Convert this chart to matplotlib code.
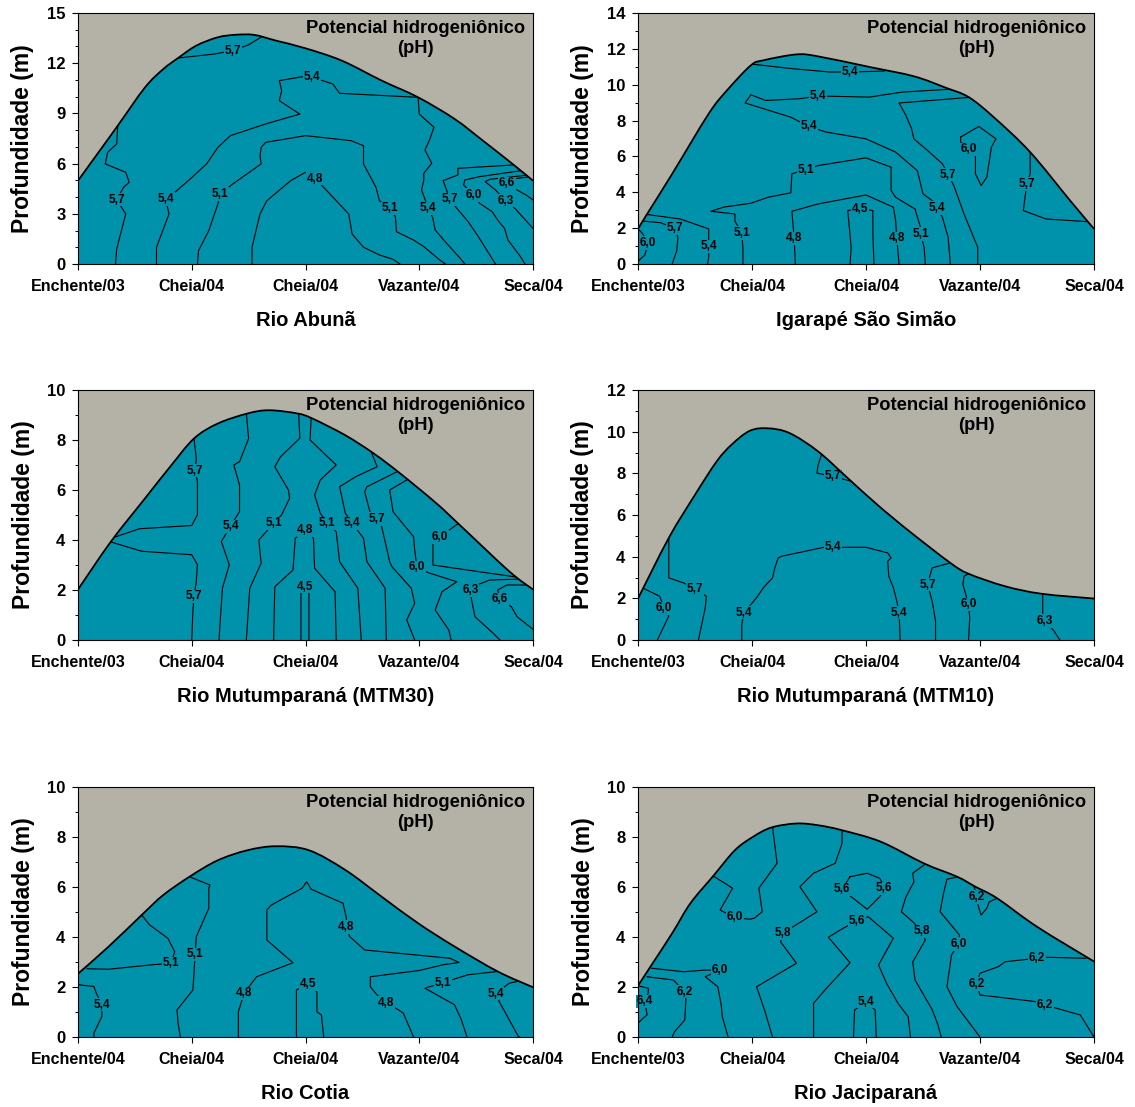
import matplotlib
matplotlib.use("Agg")
import matplotlib.pyplot as plt
import numpy as np
from matplotlib.patches import PathPatch
from matplotlib.path import Path
from matplotlib.ticker import MultipleLocator

plt.rcParams["font.family"] = ["Liberation Sans", "DejaVu Sans"]

GRAY = "#b4b2a6"
TEAL = "#0092ab"

CAMPANHAS = ["Enchente/03", "Cheia/04", "Cheia/04", "Vazante/04", "Seca/04"]
CAMPANHAS_COTIA = ["Enchente/04", "Cheia/04", "Cheia/04", "Vazante/04", "Seca/04"]

# ---- Rio Abuna ----
ABUNA_X = [0, 0.18, 0.35, 0.59, 0.75, 0.88, 1.04, 1.23, 1.39, 1.55, 1.74, 2.0, 2.32, 2.67, 2.99, 3.31, 3.56, 3.82, 4.0]
ABUNA_D = [4.98, 6.67, 8.27, 10.56, 11.65, 12.31, 13.05, 13.55, 13.7, 13.69, 13.35, 12.89, 12.15, 10.96, 9.96, 8.67, 7.37, 5.98, 4.98]
ABUNA_ISO = [
    (5.7, [(0.35, 8.3), (0.34, 7.17), (0.26, 6.67), (0.24, 5.98), (0.42, 5.48), (0.45, 4.88), (0.40, 4.58),
           (0.34, 3.84), (0.42, 2.99), (0.34, 0.9), (0.33, 0)]),
    (5.7, [(0.88, 12.31), (1.2, 12.55), (1.36, 12.75), (1.5, 13.1), (1.62, 13.6)]),
    (5.4, [(0.69, 0), (0.69, 1.0), (0.8, 2.99), (0.77, 3.88), (0.85, 4.28), (0.97, 4.98), (1.13, 5.98), (1.23, 6.97),
           (1.34, 7.67), (1.65, 8.37), (1.95, 8.96), (1.77, 9.76), (1.79, 10.36), (1.77, 10.96), (1.98, 11.2),
           (2.06, 11.16), (2.24, 10.76), (2.3, 10.2), (2.99, 9.96), (3.0, 8.96), (3.13, 8.17), (3.09, 7.41),
           (3.05, 6.81), (3.11, 6.02), (3.04, 5.42), (3.04, 5.02), (3.02, 4.42), (3.08, 3.33), (3.12, 2.73),
           (3.14, 2.03), (3.24, 1.24), (3.36, 0.34), (3.4, 0)]),
    (5.1, [(1.05, 0), (1.06, 0.8), (1.15, 2.0), (1.23, 3.59), (1.25, 4.18), (1.36, 4.78), (1.61, 5.98), (1.6, 6.47),
           (1.61, 6.97), (1.65, 7.27), (2.0, 7.67), (2.4, 7.37), (2.51, 7.07), (2.51, 5.98), (2.62, 4.58),
           (2.65, 3.78), (2.74, 3.33), (2.79, 2.83), (2.8, 1.93), (2.95, 1.43), (3.04, 1.04), (3.18, 0.24), (3.23, 0)]),
    (4.8, [(1.53, 0), (1.53, 1.0), (1.6, 2.99), (1.66, 3.78), (1.87, 4.98), (2.0, 5.48), (2.08, 5.1), (2.16, 4.58),
           (2.38, 2.99), (2.41, 1.79), (2.51, 1.0), (2.65, 0.54), (2.77, 0.28), (2.83, 0)]),
    (5.7, [(3.83, 5.92), (3.59, 5.82), (3.34, 5.72), (3.34, 5.32), (3.21, 4.98), (3.27, 3.87), (3.33, 3.33),
           (3.43, 2.53), (3.52, 1.63), (3.62, 0.54), (3.67, 0)]),
    (6.0, [(3.9, 5.58), (3.53, 5.22), (3.4, 5.02), (3.39, 4.72), (3.48, 4.12), (3.53, 3.63), (3.64, 3.13),
           (3.7, 2.53), (3.75, 2.13), (3.78, 1.43), (3.89, 0.44), (3.93, 0)]),
    (6.3, [(3.96, 5.32), (3.62, 5.06), (3.58, 4.92), (3.67, 4.42), (3.76, 3.79), (3.84, 3.33), (3.96, 2.43), (4.0, 2.13)]),
    (6.6, [(3.98, 5.22), (3.78, 5.05), (3.7, 4.95), (3.77, 4.86), (3.86, 4.42), (3.94, 4.12), (4.0, 3.83)]),
]
ABUNA_LAB = [(5.7, 0.34, 3.84), (5.7, 1.36, 12.75), (5.4, 0.77, 3.88), (5.4, 2.06, 11.16), (5.4, 3.08, 3.33),
             (5.1, 1.25, 4.18), (5.1, 2.74, 3.33), (4.8, 2.08, 5.1), (5.7, 3.27, 3.87), (6.0, 3.48, 4.12),
             (6.3, 3.76, 3.79), (6.6, 3.77, 4.82)]

# ---- Igarape Sao Simao ----
SIMAO_X = [0, 0.08, 0.3, 0.62, 0.78, 0.99, 1.1, 1.39, 1.58, 2.03, 2.42, 2.7, 2.9, 3.12, 3.44, 3.79, 4.0]
SIMAO_D = [1.96, 2.79, 5.03, 8.38, 9.68, 11.08, 11.36, 11.69, 11.58, 10.99, 10.47, 9.83, 9.31, 8.19, 6.24, 3.54, 1.96]
SIMAO_ISO = [
    (5.4, [(1.01, 11.14), (1.36, 10.89), (1.68, 10.71), (1.86, 10.71), (2.16, 10.76)]),
    (5.4, [(2.8, 9.68), (2.72, 9.74), (2.32, 9.59), (2.03, 9.31), (1.58, 9.37), (1.42, 9.22), (1.12, 9.12),
           (0.99, 9.44), (0.94, 8.98), (1.34, 8.19), (1.5, 7.67), (1.65, 7.36), (2.0, 6.98), (2.26, 6.24),
           (2.45, 5.21), (2.5, 3.91), (2.58, 3.54), (2.62, 3.13), (2.67, 2.61), (2.72, 1.5), (2.74, 0)]),
    (5.7, [(2.92, 9.3), (2.29, 8.98), (2.35, 8.29), (2.4, 7.54), (2.42, 6.98), (2.54, 6.33), (2.67, 5.59),
           (2.72, 4.99), (2.77, 4.38), (2.86, 2.79), (2.98, 0.93), (2.98, 0)]),
    (6.0, [(2.83, 7.08), (2.99, 7.67), (3.14, 6.98), (3.1, 6.52), (3.06, 4.84), (3.01, 4.38), (2.96, 5.03),
           (2.96, 6.05), (2.9, 6.4), (2.83, 6.8), (2.83, 7.08)]),
    (5.7, [(3.44, 6.3), (3.44, 5.03), (3.41, 4.47), (3.38, 2.98), (3.58, 2.51), (3.97, 2.35)]),
    (6.0, [(0.0, 1.96), (0.04, 1.7), (0.09, 1.17), (0.06, 0.5), (0.0, 0.15)]),
    (5.7, [(0.0, 2.42), (0.2, 2.3), (0.32, 2.0), (0.35, 1.49), (0.34, 0.74), (0.3, 0)]),
    (5.4, [(0.0, 2.83), (0.37, 2.51), (0.62, 1.96), (0.62, 1.3), (0.62, 0.98), (0.62, 0.37), (0.61, 0)]),
    (5.1, [(0.92, 0), (0.92, 0.93), (0.91, 1.73), (0.85, 2.4), (0.85, 2.79), (0.64, 2.94), (0.75, 3.17),
           (0.99, 3.39), (1.14, 3.72), (1.34, 3.97), (1.35, 5.03), (1.47, 5.27), (1.58, 5.49), (2.0, 5.92),
           (2.22, 5.4), (2.22, 4.1), (2.26, 3.72), (2.43, 3.07), (2.48, 2.0), (2.48, 1.68), (2.51, 0.93), (2.52, 0)]),
    (4.8, [(1.38, 0), (1.37, 1.43), (1.35, 2.94), (1.58, 3.35), (2.0, 3.85), (2.24, 3.17), (2.26, 2.42),
           (2.27, 1.43), (2.29, 0)]),
    (4.5, [(1.86, 0), (1.87, 0.93), (1.84, 2.98), (1.95, 3.1), (2.06, 2.98), (2.06, 1.68), (2.07, 0)]),
]
SIMAO_LAB = [(5.4, 1.86, 10.71), (5.4, 1.58, 9.37), (5.4, 1.5, 7.67), (5.4, 2.62, 3.13), (5.4, 0.62, 0.98),
             (5.7, 2.72, 4.99), (5.7, 3.41, 4.47), (5.7, 0.32, 2.0), (6.0, 2.9, 6.4), (6.0, 0.09, 1.17),
             (5.1, 0.91, 1.73), (5.1, 1.47, 5.27), (5.1, 2.48, 1.68), (4.8, 1.37, 1.43), (4.8, 2.27, 1.43),
             (4.5, 1.95, 3.07)]

# ---- Rio Mutumparana (MTM30) ----
MTM30_X = [0, 0.29, 0.59, 0.81, 1.02, 1.23, 1.49, 1.68, 1.93, 2.06, 2.35, 2.6, 2.83, 3.15, 3.37, 3.79, 4.0]
MTM30_D = [2.02, 3.94, 5.67, 6.93, 8.06, 8.66, 9.06, 9.19, 9.06, 8.86, 8.19, 7.46, 6.67, 5.47, 4.54, 2.75, 2.02]
MTM30_ISO = [
    (5.7, [(1.02, 8.06), (1.04, 7.26), (1.03, 6.77), (1.05, 6.33), (1.05, 5.01), (1.0, 4.58), (0.54, 4.45), (0.3, 4.08)]),
    (5.7, [(0.29, 3.92), (0.56, 3.55), (1.0, 3.41), (1.05, 3.01), (1.04, 2.35), (1.02, 1.75), (1.01, 1.16), (1.0, 0)]),
    (5.4, [(1.48, 9.06), (1.5, 8.06), (1.42, 7.13), (1.37, 7.0), (1.42, 6.2), (1.42, 5.14), (1.34, 4.54),
           (1.26, 3.94), (1.33, 3.01), (1.27, 2.08), (1.25, 0.76), (1.24, 0)]),
    (5.1, [(1.94, 9.07), (1.95, 8.07), (1.78, 7.33), (1.73, 6.93), (1.85, 6.0), (1.86, 5.67), (1.79, 5.0),
           (1.72, 4.67), (1.59, 4.0), (1.61, 3.07), (1.51, 2.07), (1.48, 0)]),
    (4.8, [(1.72, 0), (1.73, 2.13), (1.89, 2.8), (1.91, 4.07), (2.0, 4.4), (2.07, 4.07), (2.08, 2.87),
           (2.26, 1.93), (2.27, 0)]),
    (4.5, [(1.96, 0), (1.96, 1.87), (2.0, 2.13), (2.03, 1.87), (2.03, 0)]),
    (5.1, [(2.05, 8.9), (2.04, 8.0), (2.27, 7.0), (2.13, 6.4), (2.08, 5.8), (2.13, 5.07), (2.19, 4.67),
           (2.27, 4.33), (2.3, 3.13), (2.46, 2.07), (2.49, 0)]),
    (5.4, [(2.58, 7.5), (2.63, 6.93), (2.44, 6.53), (2.3, 6.13), (2.35, 5.07), (2.41, 4.67), (2.51, 4.07),
           (2.54, 3.13), (2.7, 2.07), (2.71, 0)]),
    (5.7, [(2.8, 6.72), (2.54, 6.13), (2.52, 5.93), (2.57, 5.07), (2.63, 4.84), (2.67, 4.53), (2.74, 3.13),
           (2.76, 2.93), (2.93, 2.07), (2.96, 1.47), (2.89, 0.8), (2.96, 0)]),
    (6.0, [(2.89, 6.4), (2.74, 6.0), (2.77, 5.13), (2.95, 4.13), (2.96, 3.6), (2.98, 2.91), (3.08, 2.69),
           (3.33, 2.33), (3.2, 1.93), (3.14, 1.2), (3.26, 0.4), (3.28, 0)]),
    (6.0, [(3.34, 4.65), (3.18, 4.12), (3.12, 3.87), (3.12, 3.0), (3.62, 2.67), (3.88, 2.5)]),
    (6.3, [(3.9, 2.44), (3.62, 2.4), (3.53, 2.24), (3.45, 2.0), (3.46, 1.6), (3.49, 0.93), (3.65, 0.27), (3.71, 0)]),
    (6.6, [(3.95, 2.2), (3.77, 2.2), (3.69, 2.0), (3.71, 1.63), (3.81, 1.33), (3.86, 0.93), (4.0, 0.43)]),
]
MTM30_LAB = [(5.7, 1.03, 6.77), (5.7, 1.02, 1.75), (5.4, 1.34, 4.54), (5.1, 1.72, 4.67), (4.8, 2.0, 4.4),
             (4.5, 2.0, 2.13), (5.1, 2.19, 4.67), (5.4, 2.41, 4.67), (5.7, 2.63, 4.84), (6.0, 3.18, 4.12),
             (6.0, 2.98, 2.91), (6.3, 3.45, 2.0), (6.6, 3.71, 1.63)]

# ---- Rio Mutumparana (MTM10) ----
MTM10_X = [0, 0.27, 0.5, 0.69, 0.82, 0.98, 1.14, 1.33, 1.58, 1.84, 2.1, 2.38, 2.74, 2.9, 3.22, 3.54, 4.0]
MTM10_D = [1.99, 4.9, 6.97, 8.57, 9.37, 10.04, 10.16, 9.93, 9.05, 7.77, 6.49, 5.22, 3.7, 3.18, 2.58, 2.22, 1.99]
MTM10_ISO = [
    (5.7, [(1.61, 8.9), (1.58, 8.41), (1.57, 8.01), (1.71, 7.85), (1.87, 7.62)]),
    (5.7, [(0.27, 4.9), (0.27, 2.98), (0.4, 2.74), (0.5, 2.47), (0.6, 2.1), (0.59, 1.55), (0.53, 0)]),
    (6.0, [(0.04, 2.5), (0.19, 2.1), (0.23, 1.52), (0.27, 1.15), (0.17, 0)]),
    (5.4, [(0.91, 0), (0.91, 0.75), (0.93, 1.31), (1.04, 2.03), (1.1, 2.51), (1.18, 2.98), (1.2, 3.46),
           (1.23, 3.94), (1.26, 4.02), (1.63, 4.45), (1.71, 4.45), (2.0, 4.45), (2.19, 4.18), (2.22, 3.94),
           (2.19, 3.78), (2.2, 3.06), (2.24, 2.51), (2.27, 1.87), (2.29, 1.31), (2.3, 0)]),
    (5.7, [(2.74, 3.7), (2.58, 3.46), (2.54, 2.66), (2.58, 1.87), (2.61, 0.91), (2.61, 0)]),
    (6.0, [(2.9, 3.18), (2.86, 3.06), (2.85, 2.66), (2.9, 1.71), (2.91, 1.07), (2.9, 0)]),
    (6.3, [(3.55, 2.22), (3.55, 1.23), (3.57, 0.91), (3.65, 0.43), (3.7, 0)]),
]
MTM10_LAB = [(5.7, 1.71, 7.85), (5.7, 0.5, 2.47), (6.0, 0.23, 1.52), (5.4, 0.93, 1.31), (5.4, 1.71, 4.45),
             (5.4, 2.29, 1.31), (5.7, 2.54, 2.66), (6.0, 2.9, 1.71), (6.3, 3.57, 0.91)]

# ---- Rio Cotia ----
COTIA_X = [0, 0.27, 0.56, 0.75, 0.99, 1.23, 1.49, 1.74, 2.03, 2.35, 2.67, 2.99, 3.31, 3.69, 4.0]
COTIA_D = [2.53, 3.62, 4.88, 5.68, 6.44, 7.07, 7.47, 7.63, 7.47, 6.68, 5.61, 4.55, 3.62, 2.62, 1.99]
COTIA_ISO = [
    (5.4, [(0.0, 2.09), (0.14, 2.02), (0.16, 1.76), (0.21, 1.29), (0.21, 0.82), (0.14, 0.16), (0.14, 0)]),
    (5.1, [(0.56, 4.88), (0.63, 4.48), (0.79, 3.95), (0.85, 3.41), (0.82, 2.95), (0.63, 2.88), (0.27, 2.71), (0.08, 2.73)]),
    (5.1, [(0.98, 6.41), (1.16, 6.08), (1.15, 5.95), (1.15, 5.15), (1.04, 4.01), (1.03, 3.31), (1.01, 1.88),
           (0.87, 1.08), (0.88, 0.55), (0.9, 0)]),
    (4.8, [(1.41, 0), (1.41, 1.01), (1.46, 1.75), (1.57, 2.41), (1.89, 2.97), (1.66, 3.88), (1.66, 5.08),
           (1.7, 5.28), (1.97, 5.95), (2.01, 6.21), (2.05, 5.91), (2.33, 5.35), (2.36, 4.75), (2.36, 4.35),
           (2.39, 4.01), (2.52, 3.48), (3.27, 3.15), (3.35, 2.98), (3.21, 2.89), (3.0, 2.66), (2.57, 2.41),
           (2.57, 2.01), (2.63, 1.68), (2.71, 1.37), (2.82, 1.08), (2.86, 0.95), (2.95, 0)]),
    (4.5, [(1.92, 0), (1.92, 1.88), (2.02, 2.12), (2.1, 1.81), (2.1, 1.01), (2.14, 0.88), (2.16, 0)]),
    (5.1, [(3.69, 2.62), (3.43, 2.49), (3.21, 2.18), (3.05, 1.95), (3.31, 1.29), (3.37, 0.69), (3.42, 0)]),
    (5.4, [(3.9, 2.26), (3.79, 2.15), (3.67, 1.73), (3.71, 1.36), (3.87, 0.03), (3.88, 0)]),
]
COTIA_LAB = [(5.4, 0.21, 1.29), (5.1, 0.82, 2.95), (5.1, 1.03, 3.31), (4.8, 1.46, 1.75), (4.8, 2.36, 4.4),
             (4.8, 2.71, 1.37), (4.5, 2.02, 2.12), (5.1, 3.21, 2.18), (5.4, 3.67, 1.73)]

# ---- Rio Jaciparana ----
JACI_X = [0, 0.11, 0.3, 0.46, 0.66, 0.85, 1.01, 1.17, 1.39, 1.58, 1.79, 2.13, 2.51, 2.8, 2.96, 3.15, 3.5, 4.0]
JACI_D = [2.05, 2.82, 4.15, 5.35, 6.44, 7.47, 8.01, 8.38, 8.54, 8.47, 8.27, 7.81, 6.94, 6.41, 6.01, 5.55, 4.41, 3.02]
JACI_ISO = [
    (6.4, [(0.0, 2.05), (0.09, 1.95), (0.09, 1.76), (0.06, 1.42), (0.08, 0.89), (0.0, 0.56)]),
    (6.2, [(0.08, 2.41), (0.31, 2.28), (0.41, 1.81), (0.42, 1.48), (0.41, 0.68), (0.32, 0.21), (0.3, 0)]),
    (6.0, [(0.12, 2.75), (0.4, 2.61), (0.6, 2.68), (0.72, 2.68), (0.59, 2.41), (0.7, 2.01), (0.73, 1.28),
           (0.74, 0.81), (0.79, 0)]),
    (6.0, [(0.66, 6.44), (0.83, 5.95), (0.72, 5.08), (0.85, 4.78), (0.98, 4.71), (1.02, 4.75), (1.09, 5.01),
           (1.06, 5.95), (1.22, 6.95), (1.18, 8.4)]),
    (5.8, [(1.79, 8.27), (1.79, 7.75), (1.73, 6.95), (1.54, 6.55), (1.42, 6.01), (1.57, 5.01), (1.36, 4.41),
           (1.28, 4.15), (1.25, 3.81), (1.39, 2.95), (1.04, 2.01), (1.11, 1.08), (1.18, 0)]),
    (5.6, [(1.86, 6.41), (2.01, 6.55), (2.12, 6.35), (2.17, 5.95), (2.12, 5.61), (2.01, 5.11), (1.87, 5.61),
           (1.79, 5.91), (1.86, 6.41)]),
    (5.6, [(1.54, 0), (1.54, 1.35), (1.64, 1.88), (1.86, 2.97), (1.67, 3.99), (1.8, 4.35), (1.92, 4.65),
           (2.02, 4.81), (2.24, 3.95), (2.11, 2.88), (2.18, 2.15), (2.28, 1.35), (2.37, 0.81), (2.39, 0)]),
    (5.4, [(1.89, 0), (1.9, 1.08), (2.0, 1.41), (2.08, 1.08), (2.09, 0)]),
    (5.8, [(2.53, 6.95), (2.41, 6.55), (2.42, 6.2), (2.35, 5.6), (2.31, 5.01), (2.41, 4.61), (2.49, 4.23),
           (2.52, 3.88), (2.41, 3.0), (2.43, 2.28), (2.58, 1.1), (2.63, 0.5), (2.66, 0)]),
    (6.0, [(2.81, 6.41), (2.71, 6.31), (2.68, 5.75), (2.65, 5.01), (2.82, 4.08), (2.81, 3.72), (2.75, 3.28),
           (2.71, 2.01), (2.8, 1.21), (3.0, 0)]),
    (6.2, [(2.94, 6.1), (2.96, 5.85), (2.97, 5.57), (2.99, 5.15), (3.01, 4.88), (3.06, 5.15), (3.08, 5.4), (3.15, 5.55)]),
    (6.2, [(3.93, 3.15), (3.58, 3.19), (3.5, 3.15), (3.22, 3.01), (3.16, 2.81), (3.0, 2.55), (2.97, 2.12),
           (3.0, 1.68), (3.5, 1.41), (3.57, 1.28), (3.88, 0.88), (4.0, 0)]),
]
JACI_LAB = [(6.4, 0.06, 1.42), (6.2, 0.41, 1.81), (6.0, 0.72, 2.68), (6.0, 0.85, 4.78), (5.8, 1.27, 4.15),
            (5.6, 1.79, 5.91), (5.6, 2.16, 5.95), (5.6, 1.92, 4.65), (5.4, 2.0, 1.41), (5.8, 2.49, 4.23),
            (6.0, 2.81, 3.72), (6.2, 2.97, 5.6), (6.2, 3.5, 3.15), (6.2, 2.97, 2.12), (6.2, 3.57, 1.28)]

PANELS = [
    ("Rio Abunã", ABUNA_X, ABUNA_D, ABUNA_ISO, ABUNA_LAB, 15, 3, CAMPANHAS),
    ("Igarapé São Simão", SIMAO_X, SIMAO_D, SIMAO_ISO, SIMAO_LAB, 14, 2, CAMPANHAS),
    ("Rio Mutumparaná (MTM30)", MTM30_X, MTM30_D, MTM30_ISO, MTM30_LAB, 10, 2, CAMPANHAS),
    ("Rio Mutumparaná (MTM10)", MTM10_X, MTM10_D, MTM10_ISO, MTM10_LAB, 12, 2, CAMPANHAS),
    ("Rio Cotia", COTIA_X, COTIA_D, COTIA_ISO, COTIA_LAB, 10, 2, CAMPANHAS_COTIA),
    ("Rio Jaciparaná", JACI_X, JACI_D, JACI_ISO, JACI_LAB, 10, 2, CAMPANHAS),
]

W, H = 1135, 1107
COLS = [(78, 455), (638, 456)]
ROWS = [(13, 264), (390, 640), (787, 1037)]


def profile_path(px, pd, closed):
    # curva suave (bezier) passando pelos pontos do perfil
    p = np.column_stack([px, pd]).astype(float)
    n = len(p)
    verts, codes = [], []
    if closed:
        verts += [(p[0, 0], 0.0), tuple(p[0])]
        codes += [Path.MOVETO, Path.LINETO]
    else:
        verts.append(tuple(p[0]))
        codes.append(Path.MOVETO)
    for k in range(n - 1):
        p0 = p[max(k - 1, 0)]
        p1, p2 = p[k], p[k + 1]
        p3 = p[min(k + 2, n - 1)]
        c1 = p1 + (p2 - p0) / 6.0
        c2 = p2 - (p3 - p1) / 6.0
        verts += [tuple(c1), tuple(c2), tuple(p2)]
        codes += [Path.CURVE4] * 3
    if closed:
        verts += [(p[-1, 0], 0.0), (p[0, 0], 0.0)]
        codes += [Path.LINETO, Path.CLOSEPOLY]
    return Path(verts, codes)


fig = plt.figure(figsize=(W / 100, H / 100), dpi=100)

for i, (title, px, pd, iso, labs, ymax, ystep, xlabs) in enumerate(PANELS):
    left, width = COLS[i % 2]
    top, bottom = ROWS[i // 2]
    ax = fig.add_axes([left / W, 1 - bottom / H, width / W, (bottom - top) / H])
    ax.set_facecolor(GRAY)

    water = PathPatch(profile_path(px, pd, True), facecolor=TEAL, edgecolor="none", zorder=1)
    ax.add_patch(water)

    for level, pts in iso:
        xs, ds = zip(*pts)
        ln, = ax.plot(xs, ds, color="black", lw=0.8, zorder=2)
        ln.set_clip_path(water)

    ax.add_patch(PathPatch(profile_path(px, pd, False), facecolor="none", edgecolor="black",
                           lw=1.3, zorder=4))

    for level, x, d in labs:
        ax.text(x, d, f"{level:.1f}".replace(".", ","), ha="center", va="center",
                fontsize=8.5, fontweight="bold", zorder=3,
                bbox=dict(boxstyle="square,pad=0.06", fc=TEAL, ec="none"))

    ax.text(0.742, 0.898, "Potencial hidrogeniônico\n(pH)", transform=ax.transAxes,
            ha="center", va="center", multialignment="center", fontsize=13.2,
            fontweight="bold", linespacing=1.2, zorder=5)

    ax.set_xlim(0, 4)
    ax.set_ylim(0, ymax)
    ax.set_xticks(range(5))
    ax.set_xticklabels(xlabs)
    ax.yaxis.set_major_locator(MultipleLocator(ystep))
    ax.yaxis.set_minor_locator(MultipleLocator(1))
    ax.tick_params(axis="both", which="major", direction="out", length=4, width=0.8)
    ax.tick_params(axis="x", labelsize=11.5, pad=7)
    ax.tick_params(axis="y", labelsize=12, pad=5)
    ax.tick_params(axis="y", which="minor", direction="out", length=2.5, width=0.7)
    for lab in ax.get_xticklabels() + ax.get_yticklabels():
        lab.set_fontweight("bold")
    for sp in ax.spines.values():
        sp.set_linewidth(0.8)
        sp.set_zorder(6)

    ax.set_ylabel("Profundidade (m)", fontsize=16.5, fontweight="bold", labelpad=9)
    ax.set_xlabel(title, fontsize=14.5, fontweight="bold", labelpad=12)

fig.savefig("out.png", dpi=100)
